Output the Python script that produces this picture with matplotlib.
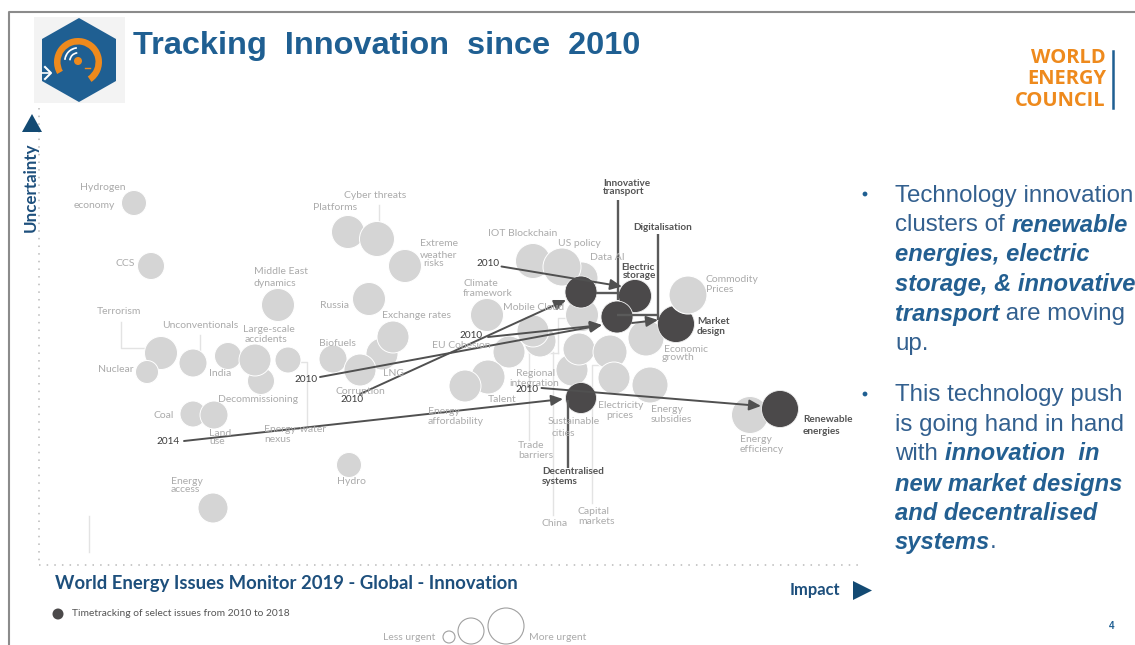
import matplotlib
matplotlib.use("Agg")
import matplotlib.pyplot as plt
from matplotlib.patches import Circle, Polygon, Rectangle, Wedge
import numpy as np

W, H = 1135, 645
GREY = "#d5d5d5"
DARK = "#4b494a"
LABEL = "#ababab"
NAVY = "#1d4f7c"
BLUE = "#1f5f92"
ORANGE = "#ee8a1d"

# Issue bubbles: impact, uncertainty, size
grey_x = [134, 151, 348, 405, 377, 278, 369, 382, 393, 333, 360, 161, 147, 193, 228, 261, 255, 288,
          193, 214, 349, 213, 533, 582, 562, 487, 582, 540, 533, 509, 488, 465, 572, 579, 610,
          646, 614, 650, 750]
grey_y = [203, 266, 232, 266, 239, 305, 299, 354, 337, 359, 370, 353, 372, 363, 356, 381, 360, 360,
          414, 415, 465, 508, 261, 278, 267, 315, 315, 341, 331, 352, 377, 386, 370, 349, 352,
          338, 378, 385, 415]
grey_r = [12.5, 13.5, 16.5, 16.5, 17.5, 16.5, 16.5, 16, 16, 14, 16, 16.5, 11.5, 14, 13.5, 13.5, 16, 13,
          13, 14, 12.5, 15, 17.5, 16, 19, 16.5, 16.5, 16, 16, 16, 17, 16, 16, 16, 17,
          18, 16, 18, 18.5]

# Time-tracked issues at their 2018 position
dark_x = [581, 635, 676, 617, 581, 780]
dark_y = [292, 296, 324, 317, 398, 409]
dark_r = [16, 16.5, 18.5, 16, 15.5, 18.5]

# Commodity Prices sits over Market design
top_x, top_y, top_r = 688, 295, 19

# Movement since the first tracked year
arrow_from_x = [501.5, 360, 320, 488, 184, 541.5, 632]
arrow_from_y = [266.5, 394, 377, 337, 441, 388, 323]
arrow_to_x = [622, 566, 602, 602, 563, 761, 658]
arrow_to_y = [286.5, 300, 325, 325, 399, 406, 320]

# Bold connector lines from dark issue names to their bubbles
connectors = [
    ([617.5, 617.5], [200, 300]),
    ([658, 658], [234, 320]),
    ([617, 658], [315, 315]),
    ([596, 620], [293, 293]),
    ([568, 568], [400, 468]),
]

# Thin leader lines
leaders = [
    ([121, 121, 145], [322, 348, 348]),
    ([200, 200], [335, 350]),
    ([301, 307, 307], [362, 362, 427]),
    ([89, 89], [516, 552]),
    ([379, 379], [205, 222]),
    ([529, 529], [353, 440]),
    ([529, 558], [353, 353]),
    ([558, 558, 567], [353, 318, 318]),
    ([553, 553], [352, 515]),
    ([592, 592, 600], [503, 365, 365]),
]

grey_labels = [
    ("Hydrogen", 80, 187), ("economy", 74, 205), ("Cyber threats", 344, 195), ("Platforms", 313, 208),
    ("Extreme", 420, 243), ("weather", 420, 255), ("risks", 423, 264), ("CCS", 115, 263),
    ("Middle East", 254, 272), ("dynamics", 254, 283), ("Russia", 320, 306), ("Exchange rates", 382, 316),
    ("Terrorism", 97, 311), ("Unconventionals", 162, 326), ("Large-scale", 243, 329), ("accidents", 245, 339),
    ("Biofuels", 319, 343), ("Nuclear", 98, 369), ("India", 209, 373), ("Decommissioning", 218, 399),
    ("LNG", 383, 373), ("Corruption", 336, 391), ("Coal", 154, 415), ("Land", 209, 434), ("use", 209, 442),
    ("Energy-water", 264, 429), ("nexus", 264, 440), ("Hydro", 337, 482), ("Energy", 171, 481), ("access", 171, 490),
    ("IOT Blockchain", 488, 233), ("US policy", 558, 243), ("Data AI", 590, 258), ("Climate", 463, 283),
    ("framework", 463, 293), ("Mobile Cloud", 503, 308), ("EU Cohesion", 432, 345), ("Regional", 516, 373),
    ("integration", 509, 383), ("Talent", 488, 399), ("Energy", 428, 411), ("affordability", 428, 422),
    ("Sustainable", 548, 422), ("cities", 552, 434), ("Trade", 518, 446), ("barriers", 518, 456),
    ("China", 542, 524), ("Capital", 578, 512), ("markets", 578, 521), ("Electricity", 598, 406),
    ("prices", 606, 416), ("Energy", 651, 409), ("subsidies", 651, 420), ("Energy", 740, 440),
    ("efficiency", 740, 450), ("Commodity", 706, 280), ("Prices", 706, 289), ("Economic", 664, 350),
    ("growth", 662, 357),
]
dark_labels = [
    ("Innovative", 603, 184), ("transport", 603, 192), ("Digitalisation", 633, 228), ("Electric", 621, 268),
    ("storage", 623, 276), ("Market", 697, 321), ("design", 697, 332), ("Renewable", 803, 420),
    ("energies", 803, 431), ("Decentralised", 542, 472), ("systems", 542, 482),
]
year_labels = [
    ("2010", 476, 263), ("2010", 459, 336), ("2010", 294, 380), ("2010", 340, 400),
    ("2010", 515, 389), ("2014", 156, 441),
]

# Commentary as rows of (text, emphasised) runs
first_block = [
    [("Technology innovation", False)],
    [("clusters of ", False), ("renewable", True)],
    [("energies, electric", True)],
    [("storage, & innovative", True)],
    [("transport", True), (" are moving", False)],
    [("up.", False)],
]
second_block = [
    [("This technology push", False)],
    [("is going hand in hand", False)],
    [("with ", False), ("innovation  in", True)],
    [("new market designs", True)],
    [("and decentralised", True)],
    [("systems", True), (".", False)],
]
first_rows = [196, 225, 255, 284, 314, 344]
second_rows = [395, 425, 454, 484, 513, 542]

plt.rcParams["font.family"] = ["Lato", "DejaVu Sans"]
fig = plt.figure(figsize=(W / 100, H / 100), dpi=100, facecolor="white")
ax = fig.add_axes([0, 0, 1, 1])
ax.set_xlim(0, W)
ax.set_ylim(H, 0)
ax.axis("off")

# Slide frame
ax.plot([8.5, 8.5, W], [H, 11.5, 11.5], color="#8b8b8b", lw=1.5, zorder=1)

# Issue icon in the header
ax.add_patch(Rectangle((34, 17), 91, 86, color="#f3f3f3", lw=0, zorder=1))
ax.add_patch(Polygon([(79, 18), (116, 39), (116, 81), (79, 102), (42, 81), (42, 39)],
                     color=BLUE, lw=0, zorder=2))
ax.add_patch(Wedge((78, 62), 24, 150, 56, width=6.5, color=ORANGE, lw=0, zorder=3))
ax.add_patch(Circle((78, 61), 4, color=ORANGE, lw=0, zorder=3))
ax.plot([85, 90], [68, 68], color=ORANGE, lw=1, zorder=3)
for radius in (9, 14):
    ax.add_patch(Wedge((78, 61), radius, 185, 265, width=1.7, color="white", lw=0, zorder=3))
ax.plot([45, 51, 45], [67, 73, 79], color="white", lw=1.5, zorder=3)
ax.plot([42, 50], [73, 73], color="white", lw=1.2, zorder=3)

ax.text(133, 46, "Tracking  Innovation  since  2010", family="Liberation Sans", fontweight="bold",
        fontsize=23.4, color=BLUE, va="center", ha="left")

# Organisation mark
for word, y in zip(["WORLD", "ENERGY", "COUNCIL"], [58, 79, 101]):
    ax.text(1106, y, word, family="Open Sans", fontweight="bold", fontsize=14.5, color=ORANGE,
            ha="right", va="center")
ax.plot([1113, 1113], [51, 108], color=BLUE, lw=1.8)

# Dotted axis lines
ax.plot([39, 39], [108, 565], color="#b9b9b9", lw=1.1, ls=(0, (1, 4)), zorder=1)
ax.plot([39, 858], [565, 565], color="#b9b9b9", lw=1.1, ls=(0, (1, 4)), zorder=1)

for xs, ys in leaders:
    ax.plot(xs, ys, color="#e3e3e3", lw=1.0, zorder=2)

for x, y, r in zip(grey_x, grey_y, grey_r):
    ax.add_patch(Circle((x, y), r, facecolor=GREY, edgecolor="white", lw=0.7, zorder=3))

for x, y, r in zip(dark_x, dark_y, dark_r):
    ax.add_patch(Circle((x, y), r, facecolor=DARK, edgecolor="#f0f0f0", lw=0.6, zorder=4))
ax.add_patch(Circle((top_x, top_y), top_r, facecolor=GREY, edgecolor="white", lw=0.8, zorder=4.5))

for xs, ys in connectors:
    ax.plot(xs, ys, color="#5a5a5a", lw=1.7, zorder=5, solid_capstyle="butt")

for x0, y0, x1, y1 in zip(arrow_from_x, arrow_from_y, arrow_to_x, arrow_to_y):
    ax.annotate("", xy=(x1, y1), xytext=(x0, y0), zorder=6,
                arrowprops=dict(arrowstyle="-|>,head_length=0.7,head_width=0.32", color="#505050",
                                lw=1.4, shrinkA=0, shrinkB=0))

for text, x, y in grey_labels:
    ax.text(x, y, text, fontsize=7.5, color=LABEL, ha="left", va="center", zorder=7)
for text, x, y in dark_labels:
    ax.text(x, y, text, fontsize=7.2, color="#555555", fontweight="bold", ha="left", va="center", zorder=7)
for text, x, y in year_labels:
    ax.text(x, y, text, fontsize=7.2, color="#3c3c3c", ha="left", va="center", zorder=7)

# Axis captions
ax.add_patch(Polygon([(32, 114), (42, 132), (22, 132)], color="#134a73", lw=0, zorder=7))
ax.text(31, 187, "Uncertainty", rotation=90, fontsize=12.2, fontweight="bold", color=NAVY,
        ha="center", va="center")
ax.text(790, 590, "Impact", fontsize=11.9, fontweight="bold", color=NAVY, ha="left", va="center")
ax.add_patch(Polygon([(853, 581), (872, 590.5), (853, 600)], color="#134a73", lw=0, zorder=7))

ax.text(55, 584, "World Energy Issues Monitor 2019 - Global - Innovation", fontsize=13.3, fontweight="bold",
        color=NAVY, ha="left", va="center")

# Legend
ax.add_patch(Circle((58, 614), 5.5, color=DARK, lw=0))
ax.text(72, 613, "Timetracking of select issues from 2010 to 2018", fontsize=7.4, color="#555555",
        ha="left", va="center")
ax.text(383, 637, "Less urgent", fontsize=7.5, color=LABEL, ha="left", va="center")
ax.text(529, 637, "More urgent", fontsize=7.5, color=LABEL, ha="left", va="center")
for x, y, r in [(449, 637, 6), (471, 631, 13), (506, 626, 18)]:
    ax.add_patch(Circle((x, y), r, facecolor="none", edgecolor="#a0a0a0", lw=0.8))

ax.text(1112, 626, "4", family="Liberation Sans", fontsize=7, fontweight="bold", color=BLUE,
        ha="center", va="center")


def draw_rows(block, rows):
    """Lay out mixed plain and bold-italic runs along each commentary row."""
    renderer = fig.canvas.get_renderer()
    for runs, y in zip(block, rows):
        x = 895.0
        for text, strong in runs:
            size = 17.1 if strong else 17.4
            style = dict(fontweight="bold", fontstyle="italic", color="#235f91") if strong \
                else dict(color="#33608f")
            ax.text(x, y, text, family="Liberation Sans", fontsize=size, ha="left", va="center", **style)
            probe = ax.text(0, 0, text.replace(" ", "\u00a0"), family="Liberation Sans", fontsize=size,
                            fontweight=style.get("fontweight", "normal"),
                            fontstyle=style.get("fontstyle", "normal"))
            x += probe.get_window_extent(renderer).width
            probe.remove()


draw_rows(first_block, first_rows)
draw_rows(second_block, second_rows)
for y in (194, 394):
    ax.add_patch(Circle((865, y), 2.4, color=BLUE, lw=0))

fig.savefig("out.png", dpi=100)
